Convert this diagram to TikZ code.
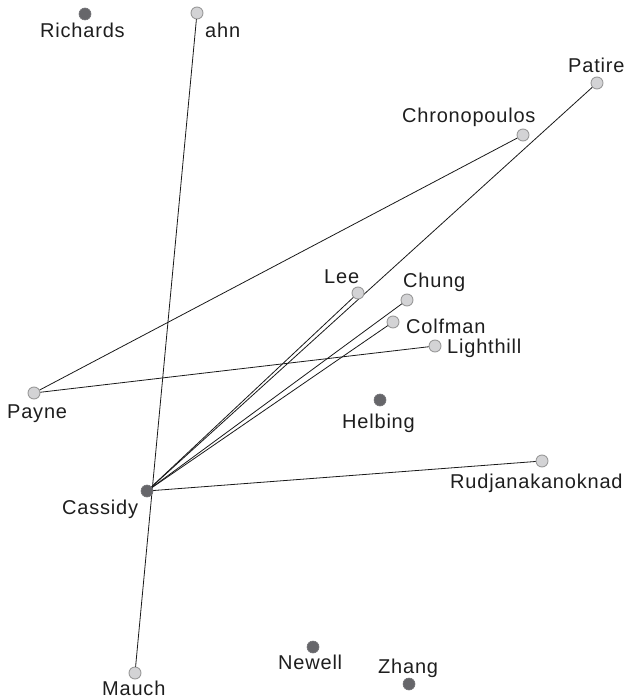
\documentclass[tikz,border=0pt]{standalone}
\usepackage{fontspec}
\setmainfont{Liberation Sans}[LetterSpace=4]
\usetikzlibrary{backgrounds}
\definecolor{lightnode}{HTML}{D3D3D5}
\definecolor{lightborder}{HTML}{9A9A9A}
\definecolor{darknode}{HTML}{66666A}
\definecolor{textcol}{HTML}{1E1E1E}
\tikzset{
  lnode/.style={circle,fill=lightnode,draw=lightborder,line width=0.9pt,minimum size=12pt,inner sep=0pt},
  dnode/.style={circle,fill=darknode,draw=darknode!90!white,line width=0.6pt,minimum size=12pt,inner sep=0pt},
  lbl/.style={anchor=base west,inner sep=0pt,text=textcol,font=\fontsize{20}{22}\selectfont},
  link/.style={line width=0.8pt,black!90}
}
\begin{document}
\begin{tikzpicture}[x=1pt,y=-1pt]
\useasboundingbox (0,0) rectangle (631,700);
% nodes
\node[dnode] (richards) at (85,14) {};
\node[lnode] (ahn) at (197,13) {};
\node[lnode] (patire) at (597,83) {};
\node[lnode] (chrono) at (523,135) {};
\node[lnode] (lee) at (358,293) {};
\node[lnode] (chung) at (407,300) {};
\node[lnode] (colfman) at (393,322) {};
\node[lnode] (lighthill) at (435,346) {};
\node[lnode] (payne) at (34,393) {};
\node[dnode] (helbing) at (380,400) {};
\node[dnode] (cassidy) at (147,491) {};
\node[lnode] (rudj) at (542,461) {};
\node[lnode] (mauch) at (135,673) {};
\node[dnode] (newell) at (313,647) {};
\node[dnode] (zhang) at (409,684) {};
% labels
\node[lbl] (richardsL) at (40,38) {Richards};
\node[lbl] (ahnL) at (205,38) {ahn};
\node[lbl] (patireL) at (568,73) {Patire};
\node[lbl] (chronoL) at (402,123) {Chronopoulos};
\node[lbl] (leeL) at (324,283) {Lee};
\node[lbl] (chungL) at (403,287) {Chung};
\node[lbl] (colfmanL) at (406,333) {Colfman};
\node[lbl] (lighthillL) at (447,353) {Lighthill};
\node[lbl] (payneL) at (7,418) {Payne};
\node[lbl] (helbingL) at (342,428) {Helbing};
\node[lbl] (cassidyL) at (62,514) {Cassidy};
\node[lbl] (rudjL) at (450,488) {Rudjanakanoknad};
\node[lbl] (mauchL) at (102,695) {Mauch};
\node[lbl] (newellL) at (278,669) {Newell};
\node[lbl] (zhangL) at (378,673) {Zhang};
% links
\begin{pgfonlayer}{background}
\draw[link] (cassidy.center) -- (patire.center);
\draw[link] (cassidy.center) -- (lee.center);
\draw[link] (cassidy.center) -- (chung.center);
\draw[link] (cassidy.center) -- (colfman.center);
\draw[link] (cassidy.center) -- (rudj.center);
\draw[link] (payne.center) -- (chrono.center);
\draw[link] (payne.center) -- (lighthill.center);
\draw[link] (ahn.center) -- (mauch.center);
\end{pgfonlayer}
\end{tikzpicture}
\end{document}
